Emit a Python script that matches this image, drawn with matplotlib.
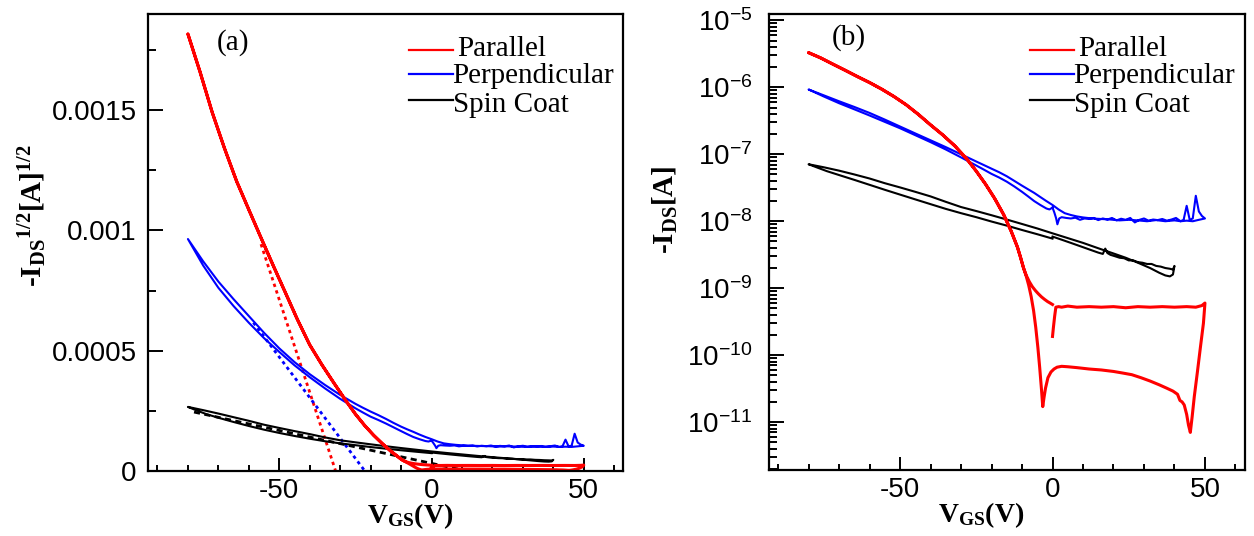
import numpy as np
import matplotlib
matplotlib.use('Agg')
from matplotlib import pyplot as plt
from matplotlib import ticker

plt.rcParams['font.family'] = 'Liberation Sans'
plt.rcParams['axes.unicode_minus'] = False
serif = 'Liberation Serif'

# ---- data: -I_DS (A) vs V_GS (V), sweep 0 -> +max -> -80 -> 0 ----
# Parallel
par_V1 = [0, 0.3, 0.7, 1.1, 2, 3, 5, 8, 12, 16, 20, 24, 28, 32, 36, 40, 44, 47, 49, 50]
par_I1 = [1.9e-10, 2.6e-10, 3.8e-10, 5.2e-10, 5.3e-10, 5.2e-10, 5.4e-10, 5.2e-10, 5.3e-10, 5.2e-10,
          5.3e-10, 5.1e-10, 5.3e-10, 5.2e-10, 5.3e-10, 5.2e-10, 5.3e-10, 5.2e-10, 5.5e-10, 6.0e-10]
par_V2 = [50, 49.5, 48.5, 47.5, 46.5, 45.8, 45.2, 44.6, 44, 43.2, 42.5, 41.8, 41, 39.5, 37.5, 35, 32,
          29, 26, 23, 20, 16, 12, 8, 5, 3, 1.5, 0.5, -0.5, -1.5, -2.3, -2.8, -3.2, -3.6, -4.2, -4.8,
          -5.5, -6.2, -7, -7.8, -8.6]
par_I2 = [6.0e-10, 3.0e-10, 1.3e-10, 5.5e-11, 2.4e-11, 1.2e-11, 7.0e-12, 9.0e-12, 1.3e-11, 1.8e-11,
          2.0e-11, 2.1e-11, 2.6e-11, 2.9e-11, 3.2e-11, 3.6e-11, 4.1e-11, 4.6e-11, 5.1e-11, 5.4e-11,
          5.7e-11, 6.0e-11, 6.2e-11, 6.5e-11, 6.7e-11, 6.8e-11, 6.6e-11, 6.2e-11, 5.6e-11, 4.6e-11,
          3.2e-11, 2.3e-11, 1.7e-11, 3.0e-11, 6.5e-11, 1.3e-10, 2.6e-10, 4.6e-10, 7.5e-10, 1.1e-9, 1.5e-9]
par_Vs = [-9.5, -10.5, -11.5, -13.5, -16, -19, -22, -25, -28, -32, -36, -40, -44, -48, -52, -56,
          -60, -64, -68, -72, -76, -80]
par_Is = [2.0e-9, 2.9e-9, 4.1e-9, 7.0e-9, 1.25e-8, 2.2e-8, 3.6e-8, 5.6e-8, 8.4e-8, 1.33e-7, 1.95e-7,
          2.75e-7, 3.95e-7, 5.5e-7, 7.3e-7, 9.4e-7, 1.18e-6, 1.45e-6, 1.8e-6, 2.22e-6, 2.75e-6, 3.3e-6]
par_V3 = [-8.6, -7.6, -6.6, -5.6, -4.6, -3.6, -2.6, -1.6, -0.8, 0]
par_I3 = [1.55e-9, 1.25e-9, 1.05e-9, 9.2e-10, 8.2e-10, 7.4e-10, 6.8e-10, 6.3e-10, 6.0e-10, 5.7e-10]

# Perpendicular
per_V1 = [0, 0.6, 1.2, 1.6, 2.2, 3, 4.5, 6, 7.5, 9, 10.5, 12, 13.5, 15, 16.5, 18, 19.5, 21, 22.5, 24,
          25.5, 27, 28.5, 30, 31.5, 33, 34.5, 36, 37.5, 39, 40.5, 42, 43, 44, 45, 46, 47, 48, 49, 50]
per_I1 = [1.6e-8, 1.35e-8, 1.1e-8, 9.0e-9, 1.1e-8, 1.15e-8, 1.12e-8, 1.1e-8, 1.13e-8, 1.05e-8,
          1.1e-8, 1.08e-8, 1.12e-8, 1.04e-8, 1.1e-8, 1.06e-8, 1.12e-8, 1.03e-8, 1.09e-8, 1.05e-8,
          1.12e-8, 9.6e-9, 1.05e-8, 1.1e-8, 1.02e-8, 1.06e-8, 1.04e-8, 1.08e-8, 1.02e-8, 1.06e-8,
          1.12e-8, 1.0e-8, 1.05e-8, 1.7e-8, 1.05e-8, 1.1e-8, 2.4e-8, 1.4e-8, 1.2e-8, 1.1e-8]
per_V2 = [50, 48, 46, 44, 42, 40, 37, 34, 31, 28, 25, 22, 19, 16, 13, 10, 8, 6, 4, 2, 0, -2, -4, -6,
          -8, -10, -12.5, -15, -17.5, -20, -22.5, -25, -30, -35, -40, -45, -50, -55, -60, -65, -70,
          -75, -80]
per_I2 = [1.1e-8, 1.05e-8, 1.0e-8, 1.02e-8, 1.0e-8, 1.03e-8, 1.0e-8, 1.04e-8, 1.0e-8, 1.03e-8,
          1.05e-8, 1.03e-8, 1.06e-8, 1.08e-8, 1.1e-8, 1.14e-8, 1.18e-8, 1.24e-8, 1.32e-8, 1.5e-8,
          1.75e-8, 2.0e-8, 2.3e-8, 2.65e-8, 3.0e-8, 3.4e-8, 4.0e-8, 4.7e-8, 5.4e-8, 6.1e-8, 6.9e-8,
          7.8e-8, 1.0e-7, 1.28e-7, 1.62e-7, 2.05e-7, 2.6e-7, 3.3e-7, 4.15e-7, 5.1e-7, 6.2e-7, 7.6e-7,
          9.3e-7]
per_V3 = [-80, -75, -70, -65, -60, -55, -50, -45, -40, -35, -30, -25, -22.5, -20, -17.5, -15, -12.5,
          -10, -8, -6, -4, -2, -1, 0]
per_I3 = [9.3e-7, 7.3e-7, 5.8e-7, 4.7e-7, 3.8e-7, 3.05e-7, 2.45e-7, 1.93e-7, 1.52e-7, 1.18e-7,
          9.0e-8, 6.8e-8, 5.9e-8, 5.1e-8, 4.5e-8, 3.9e-8, 3.3e-8, 2.75e-8, 2.35e-8, 2.0e-8, 1.75e-8,
          1.55e-8, 1.5e-8, 1.6e-8]

# Spin Coat
spn_V1 = [0, 3, 6, 9, 12, 15, 16.5, 17.3, 18, 19, 20.5, 22, 23.5, 25, 26.5, 28, 29.5, 31, 32.5, 34,
          35.5, 37, 38.5, 39.5, 40]
spn_I1 = [5.9e-9, 5.3e-9, 4.75e-9, 4.25e-9, 3.8e-9, 3.4e-9, 3.25e-9, 3.9e-9, 3.35e-9, 3.15e-9,
          3.0e-9, 2.85e-9, 2.8e-9, 2.6e-9, 2.6e-9, 2.45e-9, 2.4e-9, 2.3e-9, 2.3e-9, 2.15e-9, 2.1e-9,
          2.0e-9, 1.95e-9, 1.9e-9, 2.15e-9]
spn_V2 = [40, 39.5, 38.5, 37, 35, 32, 28, 24, 20, 15, 10, 5, 0, -5, -10, -15, -20, -25, -30, -35,
          -40, -45, -50, -55, -60, -65, -70, -75, -80]
spn_I2 = [2.15e-9, 1.6e-9, 1.5e-9, 1.55e-9, 1.7e-9, 2.0e-9, 2.4e-9, 2.85e-9, 3.3e-9, 3.95e-9,
          4.75e-9, 5.6e-9, 6.6e-9, 7.8e-9, 9.1e-9, 1.06e-8, 1.23e-8, 1.42e-8, 1.63e-8, 1.95e-8,
          2.35e-8, 2.75e-8, 3.2e-8, 3.7e-8, 4.35e-8, 5.0e-8, 5.7e-8, 6.4e-8, 7.1e-8]
spn_V3 = [-80, -77, -74, -70, -65, -60, -55, -50, -45, -40, -35, -30, -25, -20, -15, -10, -5, 0]
spn_I3 = [7.1e-8, 6.3e-8, 5.6e-8, 4.9e-8, 4.15e-8, 3.5e-8, 2.95e-8, 2.5e-8, 2.12e-8, 1.8e-8,
          1.53e-8, 1.32e-8, 1.15e-8, 9.9e-9, 8.6e-9, 7.4e-9, 6.4e-9, 5.5e-9]

# linear fits of sqrt(-I_DS) in panel (a)
par_fit_V, par_fit_S = [-56.0, -31.5], [9.43e-4, 0.0]
per_fit_V, per_fit_S = [-58.5, -21.9], [6.17e-4, 0.0]
spn_fit_V, spn_fit_S = [-78.0, 11.6], [2.45e-4, 0.0]

labels = ['Parallel', 'Perpendicular', 'Spin Coat']
colors = ['#ff0000', '#0000ff', '#000000']
x_major = [-50, 0, 50]
x_minor = list(range(-90, 61, 10))
log_major = [1e-11, 1e-10, 1e-9, 1e-8, 1e-7, 1e-6, 1e-5]

par_V = par_V1 + par_V2 + par_Vs + par_Vs[::-1] + par_V3
par_I = par_I1 + par_I2 + par_Is + par_Is[::-1] + par_I3
per_V = per_V1 + per_V2 + per_V3
per_I = per_I1 + per_I2 + per_I3
spn_V = spn_V1 + spn_V2 + spn_V3
spn_I = spn_I1 + spn_I2 + spn_I3
curves = [(par_V, par_I), (per_V, per_I), (spn_V, spn_I)]
fits = [(par_fit_V, par_fit_S, (0, (1.2, 1.3))), (per_fit_V, per_fit_S, (0, (1.2, 1.3))),
        (spn_fit_V, spn_fit_S, (0, (2.2, 1.6)))]
widths = [2.2, 1.5, 1.5]


def style(ax):
	for sp in ax.spines.values():
		sp.set_linewidth(1.6)
	ax.tick_params(which='both', direction='in', top=False, right=False, width=1.4, labelsize=20)
	ax.tick_params(axis='y', which='major', length=10.5)
	ax.tick_params(axis='y', which='minor', length=5.5)
	ax.tick_params(axis='x', which='major', length=9.5, pad=5.0)
	ax.tick_params(axis='x', which='minor', length=4.5)
	ax.xaxis.set_major_locator(ticker.FixedLocator(x_major))
	ax.xaxis.set_minor_locator(ticker.FixedLocator(x_minor))
	ax.set_xlim(-93, 63)


def legend(ax):
	line_y = [0.921, 0.868, 0.812]
	text_y = [0.909, 0.849, 0.785]
	text_x = [0.650, 0.639, 0.641]
	for i in range(3):
		ax.plot([0.548, 0.642], [line_y[i], line_y[i]], color=colors[i], lw=1.6, transform=ax.transAxes)
		ax.text(text_x[i], text_y[i], labels[i], transform=ax.transAxes, family=serif, fontsize=21,
				va='baseline', ha='left', clip_on=True)


fig = plt.figure(figsize=(12.54, 5.36), dpi=100)
ax1 = fig.add_axes([0.1183, 0.1213, 0.3788, 0.8526])
ax2 = fig.add_axes([0.6132, 0.1231, 0.3793, 0.8507])

# (a) sqrt plot
for (fv, fs, ls), c in zip(fits, colors):
	ax1.plot(fv, fs, color=c, lw=2.0, linestyle=ls)
for i in [2, 1, 0]:
	v, I = curves[i]
	ax1.plot(v, np.sqrt(I), color=colors[i], lw=widths[i])
style(ax1)
ax1.set_ylim(0, 0.0019)
ax1.yaxis.set_major_locator(ticker.FixedLocator([0, 0.0005, 0.001, 0.0015]))
ax1.yaxis.set_minor_locator(ticker.FixedLocator([0.00025, 0.00075, 0.00125, 0.00175]))
ax1.yaxis.set_major_formatter(ticker.FuncFormatter(lambda v, p: '%g' % round(v, 6)))
ax1.tick_params(axis='y', pad=8.4)
ax1.text(0.144, 0.921, '(a)', transform=ax1.transAxes, family=serif, fontsize=21, va='baseline')
ax1.text(0.551, -0.115, r'$\mathregular{V_{GS}(V)}$', transform=ax1.transAxes, family=serif,
		 fontsize=20, weight='bold', ha='center', va='baseline')
ax1.text(-0.2244, 0.558, r'-$\mathregular{I_{DS}{}^{1/2}[A]^{1/2}}$', transform=ax1.transAxes,
		 family=serif, fontsize=21, weight='bold', rotation=90, rotation_mode='anchor',
		 ha='center', va='baseline')
legend(ax1)

# (b) log plot
for i in [2, 1, 0]:
	v, I = curves[i]
	ax2.plot(v, I, color=colors[i], lw=widths[i])
style(ax2)
ax2.set_yscale('log')
ax2.set_ylim(1.92e-12, 1.246e-5)
ax2.yaxis.set_major_locator(ticker.FixedLocator(log_major))
ax2.yaxis.set_minor_locator(ticker.LogLocator(base=10, subs=np.arange(2, 10), numticks=100))
ax2.yaxis.set_minor_formatter(ticker.NullFormatter())
ax2.yaxis.set_major_formatter(ticker.FuncFormatter(
	lambda v, p: r'$\mathregular{10^{%d}}$' % int(round(np.log10(v)))))
ax2.tick_params(axis='y', pad=12)
ax2.text(0.133, 0.932, '(b)', transform=ax2.transAxes, family=serif, fontsize=21, va='baseline')
ax2.text(0.447, -0.115, r'$\mathregular{V_{GS}(V)}$', transform=ax2.transAxes, family=serif,
		 fontsize=20, weight='bold', ha='center', va='baseline')
ax2.text(-0.201, 0.570, r'-$\mathregular{I_{DS}[A]}$', transform=ax2.transAxes,
		 family=serif, fontsize=21, weight='bold', rotation=90, rotation_mode='anchor',
		 ha='center', va='baseline')
legend(ax2)

fig.savefig('out.png', dpi=100)
